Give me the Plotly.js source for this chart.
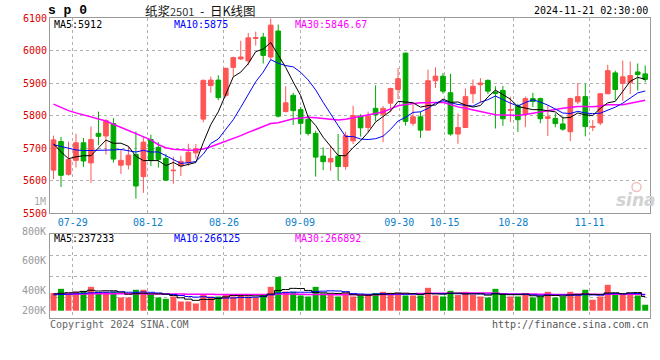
<!DOCTYPE html>
<html><head><meta charset="utf-8">
<script src="https://cdn.plot.ly/plotly-3.0.1.min.js"></script>
<style>html,body{margin:0;padding:0;background:#fff}#chart{width:660px;height:360px}</style>
</head><body><div id="chart"></div>
<script>
// ---- data (daily K of sp2501, 80 sessions, index 0..79) ----
const opens  = [5632,5720,5619,5662,5716,5654,5745,5737,5775,5647,5648,5680,5612,5726,5702,5668,5630,5645,5655,5685,
                5789,5892,5909,5862,5948,5974,5968,6037,6041,5980,6060,5812,5862,5818,5788,5745,5675,5657,5675,5643,
                5722,5798,5763,5822,5804,5838,5880,5992,5776,5796,5755,5907,5921,5870,5743,5763,5867,5895,5908,5872,
                5877,5816,5830,5805,5852,5852,5791,5791,5774,5750,5842,5858,5764,5777,5867,5931,5899,5901,5934,5928];
const highs  = [5738,5734,5719,5744,5731,5766,5812,5789,5792,5696,5705,5751,5733,5741,5718,5682,5673,5676,5713,5712,
                5911,5920,5924,5948,5981,6030,6054,6058,6054,6098,6080,5890,5870,5826,5800,5753,5702,5707,5743,5750,
                5830,5804,5812,5893,5829,5886,5946,5993,5833,5811,5941,5948,5931,5928,5806,5883,5911,5915,5911,5890,
                5891,5858,5836,5858,5870,5855,5831,5807,5797,5855,5900,5898,5786,5868,5956,5938,5969,5966,5960,5954];
const lows   = [5604,5580,5615,5640,5642,5593,5708,5680,5655,5620,5634,5544,5562,5645,5640,5600,5590,5614,5645,5668,
                5779,5870,5847,5855,5920,5971,5955,6015,5960,5972,5794,5810,5771,5742,5738,5612,5632,5630,5600,5633,
                5712,5735,5748,5782,5718,5810,5850,5769,5768,5731,5755,5885,5867,5738,5713,5763,5838,5840,5866,5760,
                5768,5780,5749,5764,5826,5776,5737,5764,5753,5721,5835,5736,5752,5770,5867,5847,5845,5866,5877,5902];
const closes = [5725,5616,5664,5716,5660,5726,5736,5784,5666,5662,5678,5583,5718,5662,5665,5601,5632,5659,5687,5698,
                5908,5909,5855,5945,5978,5980,6039,6040,5985,6078,5798,5839,5815,5776,5745,5672,5658,5668,5643,5738,
                5800,5762,5798,5802,5822,5883,5913,5782,5796,5755,5907,5921,5875,5743,5763,5858,5890,5900,5875,5868,
                5790,5818,5787,5852,5843,5790,5796,5775,5758,5852,5858,5766,5766,5867,5938,5880,5919,5923,5926,5911];
const ma5  = [5713,5688,5667,5673,5676.2,5676.4,5700.4,5724.4,5714.4,5714.8,5705.2,5674.6,5661.4,5660.6,5661.2,5645.8,5655.6,5643.8,5648.8,5655.4,
              5716.8,5772.2,5811.4,5863,5919,5933.4,5959.4,5996.4,6004.4,6024.4,5988,5948,5903,5861.2,5794.6,5769.4,5733.2,5703.8,5677.2,5675.8,
              5701.4,5722.2,5748.2,5780,5796.8,5813.4,5843.6,5840.4,5839.2,5825.8,5830.6,5832.2,5850.8,5840.2,5841.8,5832,5825.8,5830.8,5857.2,5878.2,
              5864.6,5850.2,5827.6,5823,5818,5818,5813.6,5811.2,5792.4,5794.2,5807.8,5801.8,5800,5821.8,5839,5843.4,5874,5905.4,5917.2,5911.8];
const ma10 = [5710,5704,5698,5694,5692,5692,5693,5692,5694,5695.5,5690.8,5687.5,5692.9,5687.5,5688,5675.5,5665.1,5652.6,5654.7,5658.3,
              5681.3,5713.9,5727.6,5755.9,5787.2,5825.1,5865.8,5903.9,5933.7,5971.7,5960.7,5953.7,5949.7,5932.8,5909.5,5878.7,5840.6,5803.4,5769.2,5735.2,
              5735.4,5727.7,5726,5728.6,5736.3,5757.4,5782.9,5794.3,5809.6,5811.3,5822,5837.9,5845.6,5839.7,5833.8,5831.3,5829,5840.8,5848.7,5860,
              5848.3,5838,5829.2,5840.1,5848.1,5841.3,5831.9,5819.4,5807.7,5806.1,5812.9,5807.7,5805.6,5807.1,5816.6,5825.6,5837.9,5852.7,5869.5,5875.4];
const ma30 = [5835,5825,5815,5808,5802,5796,5790,5783,5773,5763,5753,5745,5735,5725,5710,5701,5696,5694,5693,5694,
              5697,5704,5712,5720,5728,5738,5748,5757,5766,5775.2,5777.6,5785,5790.1,5792.1,5794.9,5793.1,5790.5,5786.6,5785.9,5788.4,
              5792.5,5798.4,5801.1,5805.8,5811,5820.4,5829.8,5833.9,5837.5,5839.4,5839.4,5839.8,5840.4,5833.7,5826.5,5822.5,5817.5,5812.8,5809.2,5802.2,
              5801.9,5801.2,5800.3,5802.8,5806.1,5810,5814.6,5818.2,5822,5825.8,5827.7,5827.9,5826.8,5829,5832.8,5832.7,5832.9,5837.6,5842,5847.2];
// volume in thousands of lots
const volumesK = [294,365,294,315,332,398,304,315,315,221,221,349,349,266,221,199,237,154,154,121,
                  277,237,237,277,237,266,237,221,266,398,564,320,315,254,237,398,287,277,237,294,
                  237,254,266,294,315,299,299,254,254,254,382,254,237,332,261,315,266,237,221,365,
                  277,237,237,277,221,237,315,221,237,315,277,349,183,237,432,294,266,266,254,100];
const vma5K  = [280,290,300,310,320,340.8,328.6,332.8,332.8,310.6,275.2,284.2,291,281.2,281.2,276.8,254.4,215.4,193,173,
                188.6,188.6,205.2,229.8,253,250.8,250.8,247.6,245.4,277.6,337.2,353.8,372.6,370.2,338,304.8,298.2,290.6,287.2,298.6,
                266.4,259.8,257.6,269,273.2,285.6,294.6,292.2,284.2,272,288.6,279.6,276.2,291.8,293.2,279.8,282.2,282.2,260,280.8,
                273.2,267.4,267.4,278.6,249.8,241.8,257.4,254.2,246.2,265,273,279.8,272.2,272.2,295.6,299,282.4,299,302.4,236];
const vma10K = [265,270,275,282,290,298,303,308,312,315.3,308,306.4,311.9,307,295.9,276,269.3,253.2,237.1,227.1,
                232.7,221.5,210.3,211.4,213,219.7,219.7,226.4,237.6,265.3,294,302.3,310.1,307.8,307.8,321,326,331.6,328.7,318.3,
                285.6,279,274.1,278.1,285.9,276,277.2,274.9,276.6,272.6,287.1,287.1,284.2,288,282.6,284.2,280.9,279.2,275.9,287,
                276.5,274.8,274.8,269.3,265.3,257.5,262.4,260.8,262.4,257.4,257.4,268.6,263.2,259.2,280.3,286,281.1,285.6,287.3,265.8];
const vma30K = [278,278,279,279,280,281,281,281,282,282,281,281,281,280,280,279,278,277,276,275,
                274,273,272,271,270,270,269,269,269,269.2,278.2,276.7,277.4,275.4,272.2,272.2,271.7,270.4,267.8,270.2,
                270.8,267.6,264.8,265.8,268.9,272.2,274.3,277.6,281,285.4,288.9,289.5,289.5,291.3,292.1,293.7,294.7,295.2,293.7,292.6,
                283.1,280.3,277.7,278.5,277.9,272.6,273.5,271.6,271.6,272.3,273.7,276.8,274.1,272.2,276.1,275.9,274.8,275.2,275.2,270.1];
const tickLabels = ['07-29','08-12','08-26','09-09','09-30','10-15','10-28','11-11'];
const tickPos    = [2.56, 12.61, 22.76, 32.91, 46.17, 52.2, 61.39, 71.56];
const priceTicks = [5500,5600,5700,5800,5900,6000,6100];
const volLabels  = ['1M','800K','600K','400K','200K'];

// ---- styling ----
const MONO = "'DejaVu Sans Mono','Liberation Mono',monospace";
const RED = '#ff5555', GREEN = '#00aa00', GRID = '#b0b0b0', BORDER = '#9a9a9a';
const idx = closes.map((_, i) => i);
const up = closes.map((c, i) => c >= opens[i]);
const colors = up.map(u => u ? RED : GREEN);

function wicks(sel) {
  const x = [], y = [];
  idx.forEach(i => { if (up[i] === sel) { x.push(i, i, null); y.push(lows[i], highs[i], null); } });
  return {x, y};
}
const wu = wicks(true), wd = wicks(false);

const traces = [
  {type:'scatter', mode:'lines', x:wu.x, y:wu.y, line:{color:RED, width:1}, xaxis:'x', yaxis:'y', hoverinfo:'skip'},
  {type:'scatter', mode:'lines', x:wd.x, y:wd.y, line:{color:GREEN, width:1}, xaxis:'x', yaxis:'y', hoverinfo:'skip'},
  {type:'bar', x:idx, y:closes.map((c,i)=>Math.abs(c-opens[i])), base:closes.map((c,i)=>Math.min(c,opens[i])),
   width:0.62, marker:{color:colors, line:{color:colors, width:1}}, xaxis:'x', yaxis:'y'},
  {type:'scatter', mode:'lines', x:idx, y:ma30, line:{color:'#ff00ff', width:1.5}, xaxis:'x', yaxis:'y'},
  {type:'scatter', mode:'lines', x:idx, y:ma10, line:{color:'#0000ff', width:1}, xaxis:'x', yaxis:'y'},
  {type:'scatter', mode:'lines', x:idx, y:ma5,  line:{color:'#000000', width:1}, xaxis:'x', yaxis:'y'},
  {type:'bar', x:idx, y:volumesK, width:0.8, marker:{color:colors}, xaxis:'x2', yaxis:'y2'},
  {type:'scatter', mode:'lines', x:idx, y:vma30K, line:{color:'#ff00ff', width:1.5, shape:'hvh'}, xaxis:'x2', yaxis:'y2'},
  {type:'scatter', mode:'lines', x:idx, y:vma10K, line:{color:'#0000ff', width:1, shape:'hvh'}, xaxis:'x2', yaxis:'y2'},
  {type:'scatter', mode:'lines', x:idx, y:vma5K,  line:{color:'#000000', width:1, shape:'hvh'}, xaxis:'x2', yaxis:'y2'}
];

// layout geometry helpers (plot area: x 50..650, y 18..318)
const L = 50, T = 18, W = 600, H = 300;
const px = x => (x - L) / W;
const py = y => (T + H - y) / H;
const xr = [-0.47, 79.64];
const volRange = [-121, 1273];
const volGrid = [1,2,3].map(k => volRange[0] + (volRange[1]-volRange[0]) * k / 4);

function txt(text, x, y, color, anchor, size, family, extra) {
  return Object.assign({text, x:px(x), y:py(y), xref:'paper', yref:'paper', showarrow:false,
    xanchor:anchor, yanchor:'middle', font:{family:family||MONO, size:size||10, color}, borderpad:0}, extra||{});
}
const volLabelY = [201.5, 231, 260.5, 290, 310];
const annotations = [
  txt('<b>s p 0</b>', 47, 10, '#000', 'left', 13, "'Liberation Mono','DejaVu Sans Mono',monospace"),
  txt('纸浆<span style="font-size:11px;color:#333">2501</span>&nbsp;&nbsp;-&nbsp;&nbsp;日K线图', 200, 10, '#111', 'center', 12.5, "'Noto Sans CJK SC','Noto Sans',sans-serif"),
  txt('2024-11-21 02:30:00', 649, 11, '#000', 'right'),
  txt('MA5:5912', 53, 24, '#000', 'left'),
  txt('MA10:5875', 173, 24, '#0000ff', 'left'),
  txt('MA30:5846.67', 294, 24, '#ff00ff', 'left'),
  txt('MA5:237233', 53, 238.5, '#000', 'left'),
  txt('MA10:266125', 173, 238.5, '#0000ff', 'left'),
  txt('MA30:266892', 294, 238.5, '#ff00ff', 'left'),
  txt('Copyright 2024 SINA.COM', 49, 324, '#666', 'left'),
  txt('http://finance.sina.com.cn', 650, 324, '#555', 'right'),
  txt('<b><i>sina</i></b>', 636, 200, '#d2d2d2', 'center', 17, "'DejaVu Sans',sans-serif")
].concat(volLabels.map((t, k) => txt(t, 47, volLabelY[k], k === 0 ? '#aaa' : '#999', 'right', 10)));

// small logo "eye" of the watermark (decorative, not data)
const shapes = [
  {type:'circle', xref:'paper', yref:'paper', x0:px(632), x1:px(641), y0:py(191.5), y1:py(182.5),
   line:{color:'#f0c0c0', width:1.5}, fillcolor:'rgba(0,0,0,0)', layer:'below'}
];

const axBase = {showgrid:true, gridcolor:GRID, griddash:'dot', gridwidth:1, showline:true, mirror:true,
  linecolor:BORDER, linewidth:1, zeroline:false, ticks:'', fixedrange:true};

const layout = {
  width:660, height:360, margin:{l:L, r:10, t:T, b:42}, paper_bgcolor:'#fff', plot_bgcolor:'#fff',
  showlegend:false, barmode:'overlay', font:{family:MONO, size:10},
  xaxis: Object.assign({}, axBase, {domain:[0,1], anchor:'y', range:xr, tickmode:'array', tickvals:tickPos,
    ticktext:tickLabels, tickfont:{family:MONO, size:10, color:'#0a80cc'}}),
  yaxis: Object.assign({}, axBase, {domain:[0.35,1], anchor:'x', range:[5500,6100], tickmode:'array',
    tickvals:priceTicks, ticktext:priceTicks.map(String), tickfont:{family:MONO, size:10, color:'#dd0000'}}),
  xaxis2: Object.assign({}, axBase, {domain:[0,1], anchor:'y2', range:xr, tickmode:'array', tickvals:tickPos,
    showticklabels:false}),
  yaxis2: Object.assign({}, axBase, {domain:[0,0.279], anchor:'x2', range:volRange, tickmode:'array',
    tickvals:volGrid, showticklabels:false}),
  annotations, shapes
};

Plotly.newPlot('chart', traces, layout, {staticPlot:true, displayModeBar:false});
</script>
</body></html>
